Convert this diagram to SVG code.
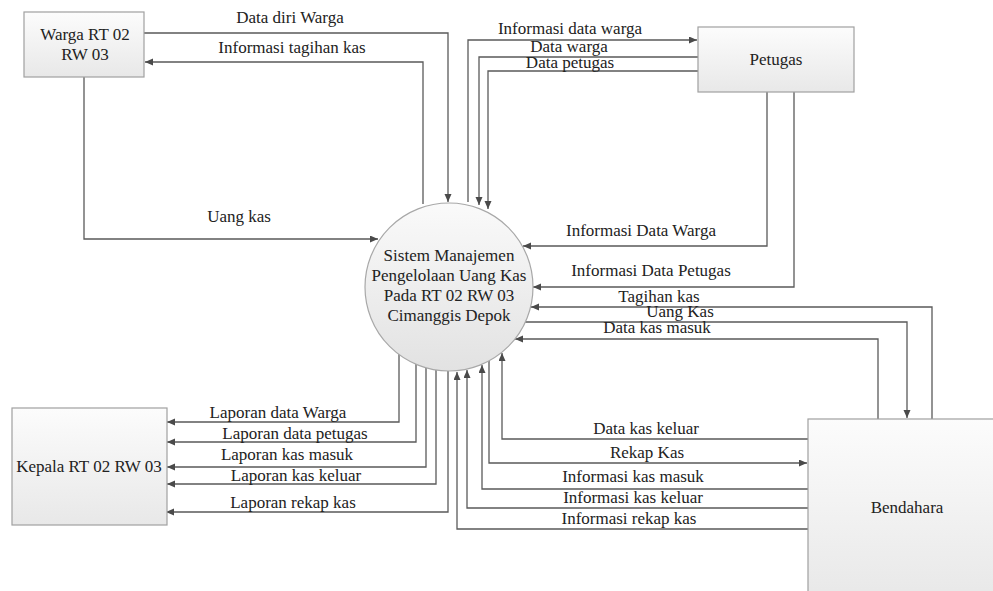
<svg xmlns="http://www.w3.org/2000/svg" width="993" height="591" viewBox="0 0 993 591" font-family="'Liberation Serif', 'Times New Roman', Times, serif">
<style>
.ent{stroke:#a0a0a0;stroke-width:1.2;fill:url(#gBox)}
.proc{stroke:#a8a8a8;stroke-width:1.2;fill:url(#gCirc)}
.c{fill:none;stroke:#5a5a5a;stroke-width:1.3;marker-end:url(#ah)}
text{font-size:17px;fill:#222;text-anchor:middle}
</style>
<defs>
<linearGradient id="gBox" x1="0" y1="0" x2="0" y2="1">
<stop offset="0" stop-color="#fcfcfc"/>
<stop offset="1" stop-color="#e8e8e8"/>
</linearGradient>
<linearGradient id="gCirc" x1="0" y1="0" x2="0" y2="1">
<stop offset="0" stop-color="#fafafa"/>
<stop offset="1" stop-color="#e2e2e2"/>
</linearGradient>
<marker id="ah" markerUnits="userSpaceOnUse" markerWidth="9" markerHeight="8" refX="8" refY="3.5" orient="auto">
<path d="M0,0 L8,3.5 L0,7 z" fill="#4a4a4a"/>
</marker>
</defs>
<rect width="993" height="591" fill="#ffffff"/>
<g id="connectors">
<path class="c" d="M144,33 H448 V202"/>
<path class="c" d="M423,204 V62 H145"/>
<path class="c" d="M84,77 V239 H378"/>
<path class="c" d="M468,202 V40 H697"/>
<path class="c" d="M698,57 H479 V205"/>
<path class="c" d="M698,71 H488 V209"/>
<path class="c" d="M767,92 V246 H523"/>
<path class="c" d="M794,92 V287 H533"/>
<path class="c" d="M932,419 V307 H531"/>
<path class="c" d="M525,322 H907 V418"/>
<path class="c" d="M878,419 V339 H515"/>
<path class="c" d="M808,439 H502 V353"/>
<path class="c" d="M489,361 V463 H807"/>
<path class="c" d="M808,489 H482 V365"/>
<path class="c" d="M808,508 H467 V370"/>
<path class="c" d="M808,529 H457 V372"/>
<path class="c" d="M399,354 V422 H167"/>
<path class="c" d="M416,364 V442 H167"/>
<path class="c" d="M426,368 V467 H167"/>
<path class="c" d="M436,370 V484 H167"/>
<path class="c" d="M448,371 V512 H166"/>
<text x="290" y="23">Data diri Warga</text>
<text x="292" y="53">Informasi tagihan kas</text>
<text x="239" y="222">Uang kas</text>
<text x="570" y="34">Informasi data warga</text>
<text x="569" y="52">Data warga</text>
<text x="570" y="68">Data petugas</text>
<text x="641" y="236">Informasi Data Warga</text>
<text x="651" y="276">Informasi Data Petugas</text>
<text x="659" y="302">Tagihan kas</text>
<text x="680" y="317">Uang Kas</text>
<text x="657" y="333">Data kas masuk</text>
<text x="646" y="434">Data kas keluar</text>
<text x="647" y="458">Rekap Kas</text>
<text x="633" y="482">Informasi kas masuk</text>
<text x="633" y="503">Informasi kas keluar</text>
<text x="629" y="524">Informasi rekap kas</text>
<text x="278" y="418">Laporan data Warga</text>
<text x="295" y="439">Laporan data petugas</text>
<text x="287" y="460">Laporan kas masuk</text>
<text x="296" y="481">Laporan kas keluar</text>
<text x="293" y="508">Laporan rekap kas</text>
</g>
<g id="warga">
<rect class="ent" x="24" y="12" width="120" height="65"/>
<text x="85" y="40">Warga RT 02</text>
<text x="85" y="60">RW 03</text>
</g>
<g id="petugas">
<rect class="ent" x="698" y="27" width="156" height="65"/>
<text x="776" y="65">Petugas</text>
</g>
<g id="sistem">
<circle class="proc" cx="449" cy="287" r="84"/>
<text x="449" y="261">Sistem Manajemen</text>
<text x="449" y="281">Pengelolaan Uang Kas</text>
<text x="449" y="301">Pada RT 02 RW 03</text>
<text x="449" y="321">Cimanggis Depok</text>
</g>
<g id="kepala">
<rect class="ent" x="12" y="408" width="155" height="117"/>
<text x="89" y="472">Kepala RT 02 RW 03</text>
</g>
<g id="bendahara">
<rect class="ent" x="808" y="419" width="200" height="180"/>
<text x="907" y="513">Bendahara</text>
</g>
</svg>
